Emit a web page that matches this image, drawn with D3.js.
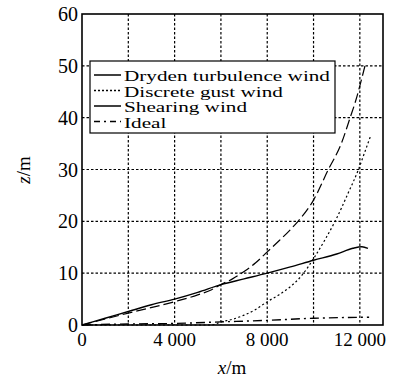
<!DOCTYPE html>
<html>
<head>
<meta charset="utf-8">
<script src="https://cdn.jsdelivr.net/npm/d3@7"></script>
<style>
  body { margin: 0; background: #fff; }
  text { font-family: "Liberation Serif", "Times New Roman", serif; fill: #000; }
</style>
</head>
<body>
<svg width="395" height="382"></svg>
<script>
// data: x in m, z in m
const drydenX = [0, 1000, 2000, 3000, 4000, 5000, 6000, 7000, 8000, 9000, 10000, 11000, 11700, 12090, 12350];
const drydenZ = [0, 1.3, 2.6, 3.9, 5.0, 6.3, 7.8, 8.9, 10.0, 11.2, 12.5, 13.7, 14.8, 15.1, 14.8];

const gustX = [0, 5600, 6000, 6500, 7000, 7500, 8000, 8500, 9000, 9500, 10000, 10500, 10930, 11500, 11940, 12200, 12450];
const gustZ = [0, 0, 0.6, 1.1, 1.9, 3.0, 4.5, 5.8, 7.4, 9.6, 12.8, 16.5, 20, 25.5, 30, 33.2, 36.3];

const shearX = [0, 2000, 4000, 5000, 5600, 6000, 6500, 7000, 7500, 8000, 8500, 9000, 9330, 10000, 10640, 11200, 11580, 11830, 12050, 12250];
const shearZ = [0, 2.3, 4.5, 5.8, 6.8, 7.8, 8.9, 10.3, 12.0, 14.1, 16.2, 18.4, 20, 24.1, 30, 35, 40, 43.4, 47, 50.5];

const idealX = [0, 2000, 4000, 6000, 8000, 10000, 12400];
const idealZ = [0, 0.2, 0.3, 0.6, 0.9, 1.3, 1.5];

const seriesNames = ["Dryden turbulence wind", "Discrete gust wind", "Shearing wind", "Ideal"];
const xGrid = [2000, 4000, 6000, 8000, 10000, 12000];
const xLabels = [0, 4000, 8000, 12000];
const yTicks = [0, 10, 20, 30, 40, 50, 60];

const svg = d3.select("svg");
const mLeft = 82, mRight = 383, mTop = 14, mBottom = 325;

const x = d3.scaleLinear().domain([0, 13000]).range([mLeft, mRight]);
const y = d3.scaleLinear().domain([0, 60]).range([mBottom, mTop]);

// grid
svg.append("g").selectAll("line").data(xGrid).enter().append("line")
  .attr("x1", d => x(d)).attr("x2", d => x(d))
  .attr("y1", mTop).attr("y2", mBottom)
  .attr("stroke", "#000").attr("stroke-width", 1.2).attr("stroke-dasharray", "2.5,2");
svg.append("g").selectAll("line").data(yTicks.slice(1, -1)).enter().append("line")
  .attr("x1", mLeft).attr("x2", mRight)
  .attr("y1", d => y(d)).attr("y2", d => y(d))
  .attr("stroke", "#000").attr("stroke-width", 1.2).attr("stroke-dasharray", "2.5,2");

// tick labels
const fmt = d => d3.format(",")(d).replace(",", " ");
svg.append("g").selectAll("text").data(xLabels).enter().append("text")
  .attr("x", d => x(d)).attr("y", 346)
  .attr("text-anchor", "middle").attr("font-size", 19)
  .text(fmt);
svg.append("g").selectAll("text").data(yTicks).enter().append("text")
  .attr("x", 78).attr("y", d => y(d) + 7)
  .attr("text-anchor", "end").attr("font-size", 20)
  .text(d => d);

// axis titles
const xt = svg.append("text").attr("x", 232).attr("y", 374).attr("text-anchor", "middle").attr("font-size", 19);
xt.append("tspan").attr("font-style", "italic").text("x");
xt.append("tspan").text("/m");
const yt = svg.append("text").attr("transform", "translate(30,170) rotate(-90)").attr("text-anchor", "middle").attr("font-size", 19);
yt.append("tspan").attr("font-style", "italic").text("z");
yt.append("tspan").text("/m");

// curves
const styles = [
  { xs: drydenX, zs: drydenZ, dash: null, w: 1.4 },
  { xs: gustX, zs: gustZ, dash: "2,2.5", w: 1.2 },
  { xs: shearX, zs: shearZ, dash: "10,4", w: 1.2 },
  { xs: idealX, zs: idealZ, dash: "9,4,2,4", w: 1.4 }
];
const line = d3.line().x(d => x(d[0])).y(d => y(d[1])).curve(d3.curveMonotoneX);
svg.append("g").selectAll("path").data(styles).enter().append("path")
  .attr("d", s => line(s.xs.map((v, i) => [v, s.zs[i]])))
  .attr("fill", "none").attr("stroke", "#000")
  .attr("stroke-width", s => s.w)
  .attr("stroke-dasharray", s => s.dash);

// frame
svg.append("rect").attr("x", mLeft).attr("y", mTop).attr("width", mRight - mLeft).attr("height", mBottom - mTop)
  .attr("fill", "none").attr("stroke", "#000").attr("stroke-width", 1.6);

// legend (text squashed vertically like the original print)
const lg = svg.append("g");
lg.append("rect").attr("x", 90).attr("y", 61).attr("width", 245).attr("height", 72)
  .attr("fill", "#fff").attr("stroke", "#000").attr("stroke-width", 1.2);
const legendDash = [null, "2,2", null, "6,4,2,4"];
seriesNames.forEach((name, i) => {
  const yy = 75 + i * 15.5;
  lg.append("line").attr("x1", 94).attr("x2", 121).attr("y1", yy).attr("y2", yy)
    .attr("stroke", "#000").attr("stroke-width", 1.5).attr("stroke-dasharray", legendDash[i]);
  lg.append("text")
    .attr("transform", `translate(124,${yy + 6}) scale(1.06,0.76)`)
    .attr("font-size", 20).text(name);
});
</script>
</body>
</html>
